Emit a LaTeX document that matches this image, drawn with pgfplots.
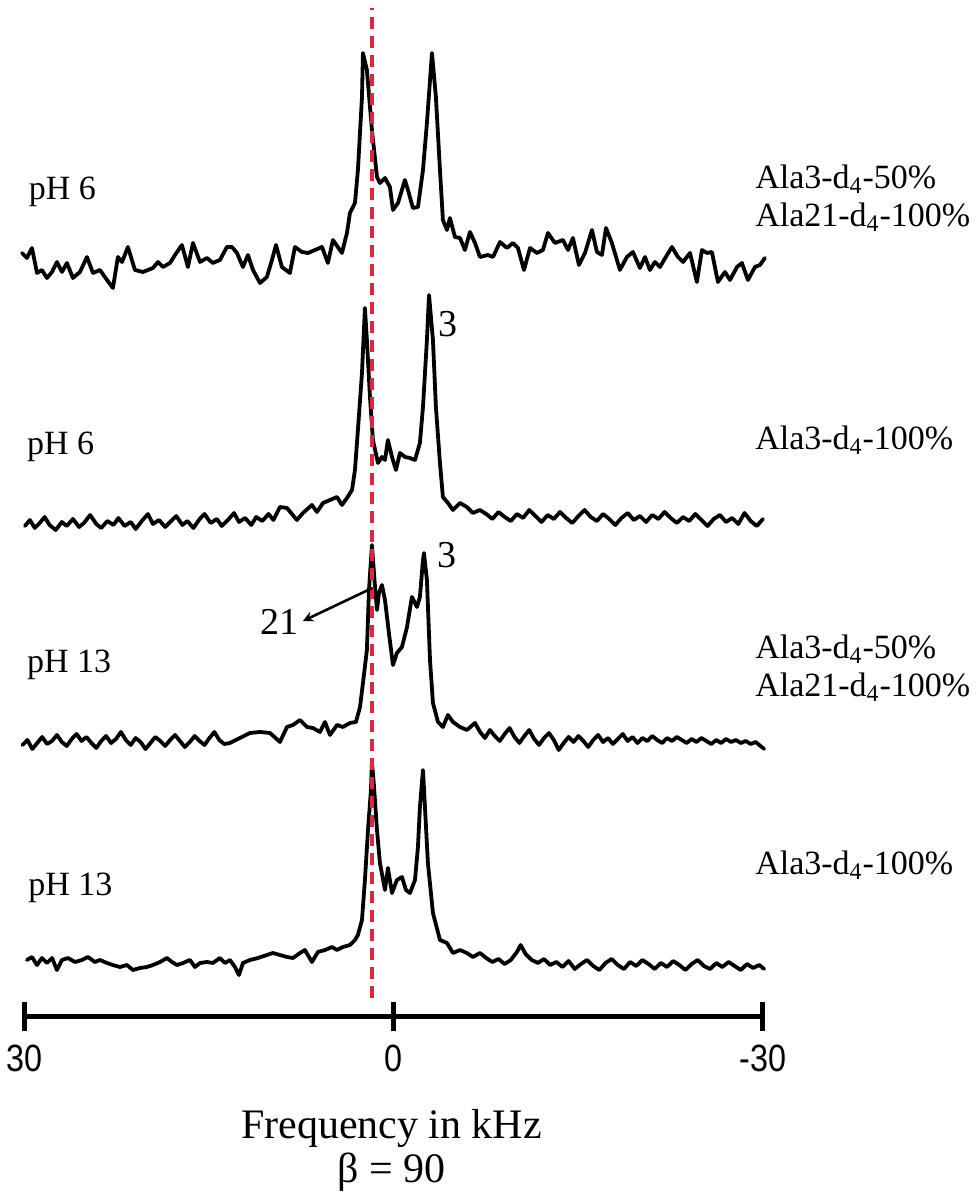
\documentclass[border=0pt]{standalone}
\usepackage{fontspec}
\setmainfont{Liberation Serif}
\newfontfamily\tickfont[FakeStretch=0.85]{Liberation Sans}
\usepackage{pgfplots}
\pgfplotsset{compat=1.18}
\definecolor{refred}{RGB}{220,40,62}

\begin{document}
\begin{tikzpicture}
\begin{axis}[
  scale only axis,
  width=369pt, height=508pt,
  xmin=-30, xmax=30, x dir=reverse,
  ymin=182, ymax=1198,
  clip=false,
  axis y line=none,
  axis x line*=bottom,
  axis line style={-, line width=2.5pt, black},
  xtick={30,0,-30},
  xticklabels={30,0,-30},
  tick align=center,
  major tick length=14.5pt,
  every tick/.style={black, line width=2.5pt},
  xticklabel style={font=\tickfont\fontsize{19}{22}\selectfont, anchor=center, yshift=-14pt},
  every axis plot/.append style={line join=round, line cap=round},
]

% pH 6, Ala3-d4-50% / Ala21-d4-100%
\addplot[black, line width=1.9pt] coordinates {
(30.24,945) (29.84,940) (29.43,950) (29.02,925) (28.62,928) (28.21,920) (27.80,926) (27.40,936)
(26.99,926) (26.59,935) (26.10,920) (25.53,926) (24.96,941) (24.47,925) (23.90,928) (23.33,918)
(22.85,910) (22.44,941) (22.11,936) (21.63,951) (21.06,928) (20.41,926) (19.59,930) (19.19,936)
(18.78,931) (18.21,935) (17.80,943) (17.24,953) (16.75,931) (16.34,955) (15.77,936) (15.20,940)
(14.72,935) (14.15,938) (13.58,951) (13.17,951) (12.76,945) (12.28,931) (11.87,943) (11.46,928)
(10.89,915) (10.33,921) (9.92,938) (9.59,953) (9.11,931) (8.46,925) (8.05,951) (7.48,946)
(6.99,945) (6.42,948) (5.85,951) (5.37,935) (4.96,958) (4.23,945) (3.82,965) (3.58,985)
(3.17,995) (2.93,1028) (2.60,1101) (2.52,1145) (2.20,1128) (1.79,1068) (1.38,1021) (1.14,1015)
(0.73,1020) (0.33,1011) (0.08,988) (-0.33,995) (-0.89,1018) (-1.14,1008) (-1.54,990) (-1.95,991)
(-2.36,1028) (-2.68,1075) (-3.09,1145) (-3.41,1101) (-3.74,1028) (-3.98,978) (-4.31,968) (-4.55,980)
(-4.96,961) (-5.37,960) (-5.77,948) (-6.18,966) (-6.59,955) (-6.99,941) (-7.64,943) (-8.05,941)
(-8.62,956) (-9.19,950) (-9.67,955) (-10.08,950) (-10.57,928) (-11.06,950) (-11.63,945) (-12.11,948)
(-12.52,965) (-13.09,955) (-13.74,958) (-14.15,948) (-14.55,960) (-15.04,933) (-15.53,945) (-16.10,968)
(-16.50,946) (-16.91,943) (-17.24,970) (-17.72,955) (-18.37,928) (-18.94,941) (-19.43,946) (-20.00,930)
(-20.41,941) (-20.81,928) (-21.22,936) (-21.63,931) (-22.20,943) (-22.60,951) (-23.09,941) (-23.50,936)
(-24.07,945) (-24.63,916) (-25.04,948) (-25.45,945) (-25.85,946) (-26.34,916) (-26.91,926) (-27.32,918)
(-27.89,931) (-28.29,935) (-28.78,918) (-29.35,931) (-29.76,933) (-30.16,940)
};

% pH 6, Ala3-d4-100%
\addplot[black, line width=1.9pt] coordinates {
(30.0,672) (29.6,678) (29.2,670) (28.8,675) (28.4,681) (28.0,673) (27.5,668) (27.0,676)
(26.6,672) (26.1,679) (25.6,671) (25.2,675) (24.7,683) (24.2,674) (23.8,670) (23.3,677)
(22.8,673) (22.4,680) (21.9,672) (21.4,676) (21.0,669) (20.5,677) (20.0,684) (19.6,674)
(19.1,678) (18.6,671) (18.2,676) (17.7,682) (17.2,673) (16.8,677) (16.3,670) (15.8,679)
(15.4,684) (14.9,675) (14.4,679) (14.0,672) (13.5,678) (13.0,685) (12.6,676) (12.1,680)
(11.6,673) (11.2,681) (10.7,677) (10.2,684) (9.8,678) (9.27,691) (8.70,690) (7.89,678)
(7.40,685) (6.67,693) (6.26,686) (5.77,695) (5.20,698) (4.63,701) (4.23,693) (3.82,700)
(3.41,708) (3.17,728) (2.93,768) (2.60,825) (2.36,890) (2.20,858) (1.95,801) (1.71,758)
(1.30,735) (0.98,741) (0.73,738) (0.49,758) (0.16,741) (-0.16,728) (-0.49,745) (-0.89,741)
(-1.30,740) (-1.71,738) (-2.11,755) (-2.36,791) (-2.68,858) (-2.85,903) (-3.17,858) (-3.41,791)
(-3.74,735) (-3.98,701) (-4.39,695) (-4.80,688) (-5.37,695) (-5.93,691) (-6.42,685) (-6.99,688)
(-7.5,684) (-8.0,679) (-8.5,686) (-9.0,681) (-9.5,677) (-10.0,684) (-10.5,680) (-11.0,688)
(-11.5,682) (-12.0,676) (-12.5,683) (-13.0,679) (-13.5,686) (-14.0,680) (-14.5,675) (-15.0,682)
(-15.5,688) (-16.0,681) (-16.5,677) (-17.0,684) (-17.5,679) (-18.0,673) (-18.5,680) (-19.0,685)
(-19.5,678) (-20.0,682) (-20.5,676) (-21.0,683) (-21.5,679) (-22.0,686) (-22.5,680) (-23.0,675)
(-23.5,681) (-24.0,677) (-24.5,684) (-25.0,678) (-25.5,672) (-26.0,679) (-26.5,683) (-27.0,676)
(-27.5,680) (-28.0,674) (-28.5,685) (-29.0,677) (-29.5,672) (-30.0,679)
};

% pH 13, Ala3-d4-50% / Ala21-d4-100%
\addplot[black, line width=1.9pt] coordinates {
(30.2,453) (29.8,458) (29.4,449) (29.0,455) (28.6,461) (28.2,454) (27.8,457) (27.4,463)
(27.0,456) (26.6,452) (26.2,459) (25.8,464) (25.4,457) (25.0,461) (24.6,455) (24.2,450)
(23.8,457) (23.4,462) (23.0,455) (22.6,459) (22.2,466) (21.8,458) (21.4,453) (21.0,460)
(20.6,456) (20.2,449) (19.8,455) (19.4,461) (19.0,457) (18.6,452) (18.2,458) (17.8,463)
(17.4,457) (17.0,451) (16.6,456) (16.2,462) (15.8,457) (15.4,453) (15.0,460) (14.6,466)
(14.2,458) (13.8,454) (13.33,455) (12.52,460) (11.71,465) (10.89,466) (10.08,465) (9.27,456)
(8.70,471) (8.21,473) (7.64,478) (7.07,471) (6.59,470) (6.02,466) (5.61,476) (5.20,463)
(4.63,473) (4.15,471) (3.58,475) (3.09,476) (2.76,491) (2.52,515) (2.20,548) (2.03,608)
(1.79,653) (1.54,611) (1.38,588) (1.22,605) (0.98,613) (0.73,598) (0.41,565) (0.08,533)
(-0.24,545) (-0.65,551) (-1.06,571) (-1.46,601) (-1.87,591) (-2.11,601) (-2.36,638) (-2.44,645)
(-2.68,618) (-2.93,538) (-3.17,495) (-3.58,476) (-3.98,471) (-4.39,483) (-4.80,476) (-5.37,471)
(-5.93,468) (-6.59,475) (-7.0,466) (-7.4,460) (-7.8,468) (-8.2,462) (-8.6,457) (-9.0,464)
(-9.4,470) (-9.8,461) (-10.2,455) (-10.6,462) (-11.0,468) (-11.4,459) (-11.8,453) (-12.2,460)
(-12.6,465) (-13.0,458) (-13.4,448) (-13.8,455) (-14.2,461) (-14.6,456) (-15.0,462) (-15.4,457)
(-15.8,451) (-16.2,458) (-16.6,463) (-17.0,456) (-17.4,460) (-17.8,454) (-18.2,459) (-18.6,464)
(-19.0,457) (-19.4,461) (-19.8,455) (-20.2,460) (-20.6,457) (-21.0,462) (-21.4,458) (-21.8,455)
(-22.2,460) (-22.6,457) (-23.0,461) (-23.4,458) (-23.8,455) (-24.2,459) (-24.6,456) (-25.0,460)
(-25.4,457) (-25.8,454) (-26.2,458) (-26.6,455) (-27.0,459) (-27.4,456) (-27.8,458) (-28.2,455)
(-28.6,457) (-29.0,454) (-29.4,456) (-29.8,452) (-30.1,449)
};

% pH 13, Ala3-d4-100%
\addplot[black, line width=1.9pt] coordinates {
(29.84,238) (29.43,241) (29.02,233) (28.62,240) (28.21,235) (27.80,240) (27.40,228) (26.99,238)
(26.50,240) (25.93,236) (25.37,238) (24.88,241) (24.31,236) (23.90,238) (23.33,235) (22.85,233)
(22.28,231) (21.71,233) (21.22,228) (20.65,230) (20.08,231) (19.59,233) (19.02,236) (18.46,240)
(18.05,236) (17.64,233) (17.15,235) (16.59,238) (16.18,231) (15.77,235) (15.20,236) (14.72,235)
(14.15,240) (13.74,235) (13.33,238) (12.93,231) (12.60,223) (12.28,235) (11.71,238) (11.06,240)
(10.33,243) (9.84,245) (9.27,243) (8.70,241) (8.21,240) (7.64,245) (7.24,248) (6.67,236)
(6.18,246) (5.61,248) (5.04,251) (4.63,248) (4.15,251) (3.58,253) (3.17,258) (2.93,263)
(2.60,278) (2.36,318) (2.11,368) (1.87,408) (1.79,436) (1.63,413) (1.38,368) (1.14,335)
(0.73,308) (0.49,330) (0.16,305) (-0.24,318) (-0.65,321) (-0.98,308) (-1.30,305) (-1.71,318)
(-1.95,351) (-2.11,391) (-2.36,428) (-2.52,391) (-2.76,335) (-3.17,285) (-3.74,258) (-4.31,255)
(-4.80,245) (-5.37,248) (-5.93,245) (-6.42,241) (-6.99,245) (-7.5,240) (-8.0,236) (-8.5,239)
(-9.0,234) (-9.5,238) (-10.0,246) (-10.3,253) (-10.7,244) (-11.2,238) (-11.7,235) (-12.2,239)
(-12.7,233) (-13.2,236) (-13.7,231) (-14.2,237) (-14.7,229) (-15.2,234) (-15.7,238) (-16.2,232)
(-16.7,228) (-17.2,235) (-17.7,239) (-18.2,233) (-18.7,229) (-19.2,236) (-19.7,232) (-20.2,238)
(-20.7,234) (-21.2,229) (-21.7,235) (-22.2,231) (-22.7,237) (-23.2,233) (-23.7,228) (-24.2,234)
(-24.7,238) (-25.2,232) (-25.7,229) (-26.2,235) (-26.7,231) (-27.2,236) (-27.7,232) (-28.2,228)
(-28.7,234) (-29.2,230) (-29.7,233) (-30.1,229)
};

% reference position of the Ala21 peak
\addplot[refred, line width=2pt, dash pattern=on 6pt off 3.5pt, line cap=butt] coordinates {(1.79,200) (1.79,1190)};

% sample labels
\begin{scope}[font=\fontsize{17}{20}\selectfont]
\node[anchor=west] at (axis cs:30.25,1006) {pH 6};
\node[anchor=west] at (axis cs:30.4,751) {pH 6};
\node[anchor=west] at (axis cs:30.4,533) {pH 13};
\node[anchor=west] at (axis cs:30.3,310) {pH 13};
\node[anchor=west, align=left] at (axis cs:-28.8,1000) {Ala3-d\textsubscript{4}-50\%\\[-1pt]Ala21-d\textsubscript{4}-100\%};
\node[anchor=west] at (axis cs:-28.8,758) {Ala3-d\textsubscript{4}-100\%};
\node[anchor=west, align=left] at (axis cs:-28.8,530) {Ala3-d\textsubscript{4}-50\%\\[-1pt]Ala21-d\textsubscript{4}-100\%};
\node[anchor=west] at (axis cs:-28.8,333) {Ala3-d\textsubscript{4}-100\%};
\end{scope}
\begin{scope}[font=\fontsize{19}{22}\selectfont]
\node at (axis cs:-4.4,874) {3};
\node at (axis cs:-4.35,643) {3};
\node at (axis cs:9.3,576) {21};
\end{scope}
\draw[-stealth, line width=1.3pt] (axis cs:1.75,610) -- (axis cs:7.4,577);

\node[font=\fontsize{21}{25}\selectfont] at (axis cs:0.2,70) {Frequency in kHz};
\node[font=\fontsize{21}{25}\selectfont] at (axis cs:0.2,26) {β = 90};

\coordinate (bbA) at (axis cs:32.03,0);
\coordinate (bbB) at (axis cs:-47.32,1198);
\end{axis}
\pgfresetboundingbox
\path (bbA) rectangle (bbB);
\end{tikzpicture}
\end{document}
